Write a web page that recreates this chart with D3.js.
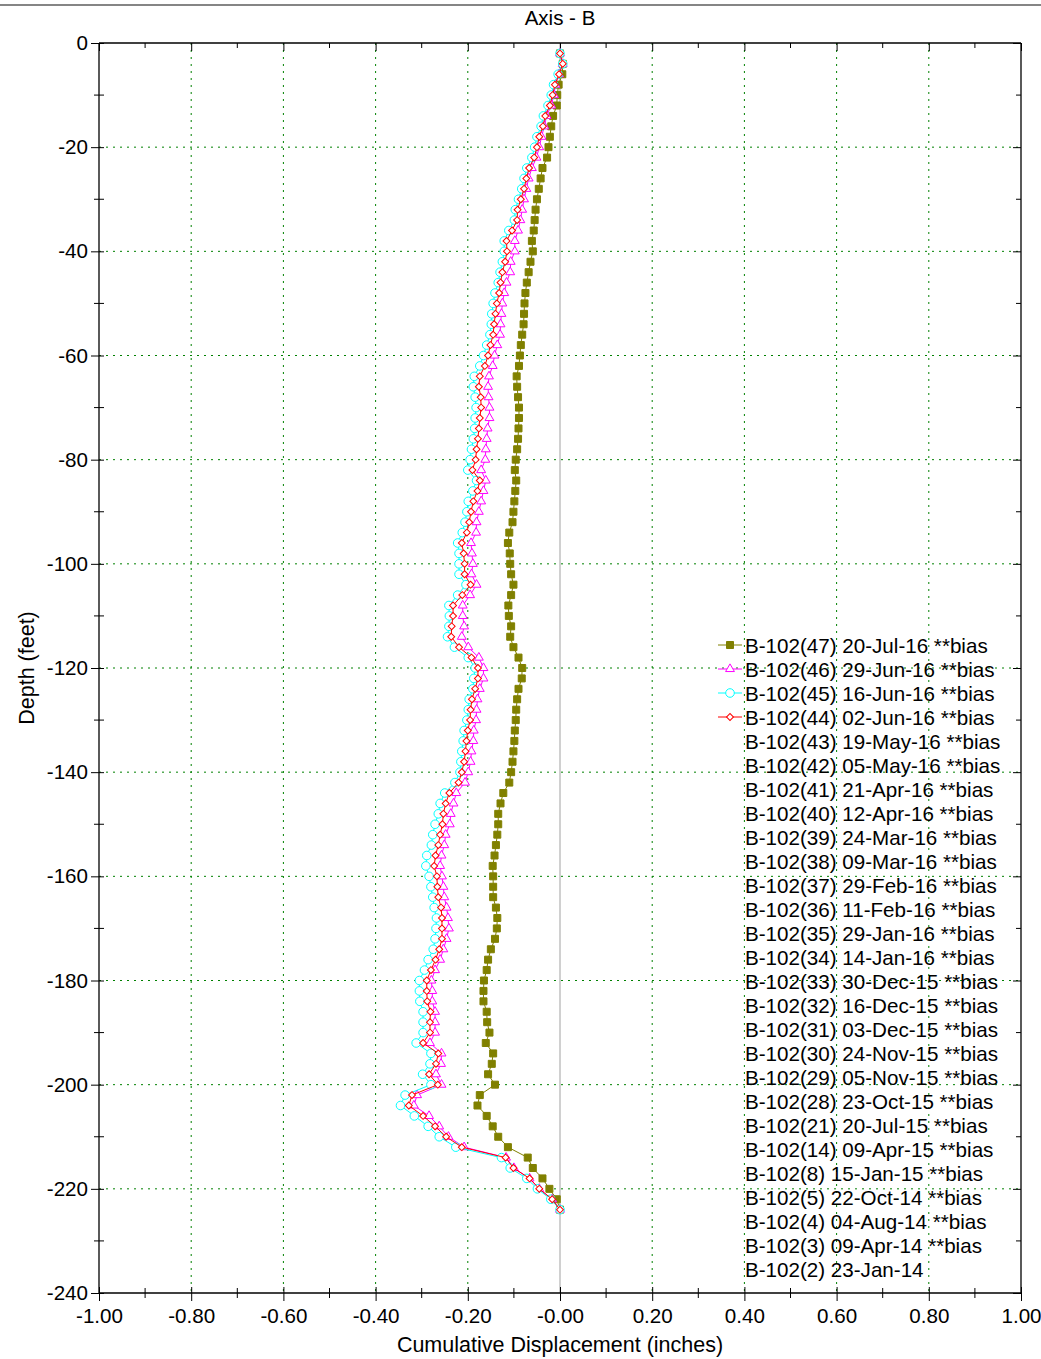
<!DOCTYPE html>
<html>
<head>
<meta charset="utf-8">
<script src="https://cdn.jsdelivr.net/npm/d3@7"></script>
<style>
    body { margin: 0; background: #fff; }
    svg { display: block; font-family: Arial, "Liberation Sans", sans-serif; }
</style>
</head>
<body>
<svg id="chart" width="1041" height="1359"></svg>
<script>
// depth stations (feet), one reading every 2 ft
const depths = [
    -2, -4, -6, -8, -10, -12, -14, -16, -18, -20, -22, -24, -26, -28, -30, -32, -34, -36, -38, -40,
    -42, -44, -46, -48, -50, -52, -54, -56, -58, -60, -62, -64, -66, -68, -70, -72, -74, -76, -78, -80,
    -82, -84, -86, -88, -90, -92, -94, -96, -98, -100, -102, -104, -106, -108, -110, -112, -114, -116, -118, -120,
    -122, -124, -126, -128, -130, -132, -134, -136, -138, -140, -142, -144, -146, -148, -150, -152, -154, -156, -158, -160,
    -162, -164, -166, -168, -170, -172, -174, -176, -178, -180, -182, -184, -186, -188, -190, -192, -194, -196, -198, -200,
    -202, -204, -206, -208, -210, -212, -214, -216, -218, -220, -222, -224
];

// cumulative displacement (inches) per reading
const b102_47 = [
    0.000, 0.006, 0.005, -0.003, -0.006, -0.007, -0.015, -0.019, -0.022, -0.025, -0.028, -0.038, -0.042, -0.046, -0.050, -0.053, -0.055, -0.057, -0.061, -0.059,
    -0.064, -0.068, -0.072, -0.075, -0.077, -0.078, -0.079, -0.082, -0.085, -0.087, -0.089, -0.094, -0.093, -0.091, -0.089, -0.089, -0.090, -0.091, -0.093, -0.096,
    -0.098, -0.095, -0.097, -0.099, -0.101, -0.103, -0.110, -0.113, -0.109, -0.108, -0.106, -0.101, -0.106, -0.112, -0.111, -0.106, -0.108, -0.101, -0.090, -0.082,
    -0.083, -0.090, -0.093, -0.095, -0.096, -0.098, -0.099, -0.101, -0.103, -0.106, -0.110, -0.123, -0.129, -0.134, -0.134, -0.136, -0.139, -0.142, -0.146, -0.145,
    -0.145, -0.145, -0.139, -0.136, -0.137, -0.141, -0.150, -0.156, -0.159, -0.165, -0.166, -0.166, -0.159, -0.158, -0.153, -0.161, -0.145, -0.148, -0.156, -0.141,
    -0.174, -0.179, -0.159, -0.146, -0.134, -0.113, -0.070, -0.059, -0.038, -0.023, -0.007, 0.000
];
const b102_46 = [
    0.000, 0.006, -0.002, -0.010, -0.013, -0.019, -0.029, -0.034, -0.040, -0.045, -0.051, -0.061, -0.068, -0.073, -0.078, -0.082, -0.086, -0.091, -0.098, -0.098,
    -0.107, -0.108, -0.116, -0.121, -0.125, -0.127, -0.129, -0.130, -0.136, -0.142, -0.146, -0.154, -0.156, -0.155, -0.153, -0.153, -0.157, -0.159, -0.161, -0.162,
    -0.171, -0.161, -0.166, -0.171, -0.176, -0.181, -0.182, -0.193, -0.191, -0.189, -0.192, -0.181, -0.195, -0.211, -0.211, -0.208, -0.213, -0.199, -0.176, -0.166,
    -0.166, -0.174, -0.179, -0.181, -0.182, -0.187, -0.188, -0.192, -0.194, -0.199, -0.206, -0.225, -0.231, -0.237, -0.239, -0.248, -0.251, -0.257, -0.260, -0.256,
    -0.253, -0.251, -0.246, -0.243, -0.241, -0.246, -0.253, -0.260, -0.271, -0.279, -0.277, -0.277, -0.271, -0.271, -0.271, -0.282, -0.257, -0.258, -0.269, -0.257,
    -0.310, -0.317, -0.284, -0.262, -0.242, -0.208, -0.117, -0.100, -0.066, -0.045, -0.017, 0.000
];
const b102_45 = [
    0.000, 0.006, -0.004, -0.014, -0.019, -0.026, -0.036, -0.041, -0.050, -0.055, -0.061, -0.072, -0.078, -0.083, -0.090, -0.097, -0.099, -0.111, -0.121, -0.121,
    -0.125, -0.130, -0.134, -0.141, -0.145, -0.148, -0.149, -0.152, -0.159, -0.166, -0.174, -0.186, -0.188, -0.184, -0.182, -0.184, -0.185, -0.188, -0.192, -0.195,
    -0.200, -0.181, -0.189, -0.199, -0.202, -0.206, -0.212, -0.222, -0.219, -0.219, -0.219, -0.204, -0.222, -0.241, -0.240, -0.241, -0.244, -0.229, -0.199, -0.184,
    -0.187, -0.189, -0.197, -0.199, -0.202, -0.208, -0.210, -0.213, -0.215, -0.217, -0.228, -0.250, -0.260, -0.264, -0.271, -0.276, -0.279, -0.289, -0.291, -0.284,
    -0.280, -0.276, -0.273, -0.268, -0.269, -0.271, -0.275, -0.286, -0.294, -0.305, -0.305, -0.304, -0.297, -0.297, -0.297, -0.312, -0.280, -0.282, -0.298, -0.280,
    -0.336, -0.346, -0.316, -0.286, -0.262, -0.226, -0.127, -0.108, -0.072, -0.049, -0.020, 0.000
];
const b102_44 = [
    0.000, 0.006, -0.002, -0.011, -0.016, -0.022, -0.032, -0.037, -0.045, -0.050, -0.056, -0.067, -0.073, -0.078, -0.085, -0.092, -0.093, -0.104, -0.116, -0.115,
    -0.119, -0.125, -0.129, -0.132, -0.137, -0.140, -0.143, -0.145, -0.151, -0.156, -0.163, -0.174, -0.176, -0.172, -0.171, -0.174, -0.176, -0.178, -0.181, -0.183,
    -0.190, -0.174, -0.179, -0.188, -0.193, -0.197, -0.202, -0.213, -0.209, -0.207, -0.207, -0.194, -0.212, -0.232, -0.232, -0.235, -0.236, -0.219, -0.192, -0.178,
    -0.178, -0.184, -0.191, -0.194, -0.195, -0.200, -0.203, -0.205, -0.208, -0.213, -0.220, -0.240, -0.248, -0.253, -0.255, -0.260, -0.264, -0.270, -0.273, -0.267,
    -0.266, -0.264, -0.258, -0.256, -0.256, -0.256, -0.262, -0.270, -0.280, -0.289, -0.289, -0.288, -0.281, -0.282, -0.282, -0.297, -0.264, -0.269, -0.284, -0.265,
    -0.321, -0.328, -0.297, -0.271, -0.247, -0.213, -0.118, -0.101, -0.066, -0.045, -0.017, 0.000
];

// legend text, newest first; only the first four readings are plotted
const legendLabels = [
    "B-102(47) 20-Jul-16 **bias", "B-102(46) 29-Jun-16 **bias", "B-102(45) 16-Jun-16 **bias",
    "B-102(44) 02-Jun-16 **bias", "B-102(43) 19-May-16 **bias", "B-102(42) 05-May-16 **bias",
    "B-102(41) 21-Apr-16 **bias", "B-102(40) 12-Apr-16 **bias", "B-102(39) 24-Mar-16 **bias",
    "B-102(38) 09-Mar-16 **bias", "B-102(37) 29-Feb-16 **bias", "B-102(36) 11-Feb-16 **bias",
    "B-102(35) 29-Jan-16 **bias", "B-102(34) 14-Jan-16 **bias", "B-102(33) 30-Dec-15 **bias",
    "B-102(32) 16-Dec-15 **bias", "B-102(31) 03-Dec-15 **bias", "B-102(30) 24-Nov-15 **bias",
    "B-102(29) 05-Nov-15 **bias", "B-102(28) 23-Oct-15 **bias", "B-102(21) 20-Jul-15 **bias",
    "B-102(14) 09-Apr-15 **bias", "B-102(8) 15-Jan-15 **bias", "B-102(5) 22-Oct-14 **bias",
    "B-102(4) 04-Aug-14 **bias", "B-102(3) 09-Apr-14 **bias", "B-102(2) 23-Jan-14"
];

const xTicks = [-1, -0.8, -0.6, -0.4, -0.2, 0, 0.2, 0.4, 0.6, 0.8, 1];
const xTickLabels = ["-1.00", "-0.80", "-0.60", "-0.40", "-0.20", "-0.00", "0.20", "0.40", "0.60", "0.80", "1.00"];
const xMinorTicks = [-0.9, -0.7, -0.5, -0.3, -0.1, 0.1, 0.3, 0.5, 0.7, 0.9];
const yTicks = [0, -20, -40, -60, -80, -100, -120, -140, -160, -180, -200, -220, -240];
const yTickLabels = ["0", "-20", "-40", "-60", "-80", "-100", "-120", "-140", "-160", "-180", "-200", "-220", "-240"];
const yMinorTicks = [-10, -30, -50, -70, -90, -110, -130, -150, -170, -190, -210, -230];

// drawing order: olive first, red last (on top) - same order as legend rows
const series = [
    {values: b102_47, color: "#808000", symbol: "square", fill: "#808000"},
    {values: b102_46, color: "#ff00ff", symbol: "triangle", fill: "#fff"},
    {values: b102_45, color: "#00ffff", symbol: "circle", fill: "#fff"},
    {values: b102_44, color: "#ff0000", symbol: "diamond", fill: "#fff"}
];

const svg = d3.select("#chart");
const plot = {left: 99, right: 1021, top: 43, bottom: 1293};

const x = d3.scaleLinear().domain([-1, 1]).range([plot.left, plot.right]);
const y = d3.scaleLinear().domain([0, -240]).range([plot.top, plot.bottom]);

const symbolPath = {
    square: d3.symbol().type(d3.symbolSquare).size(49)(),
    triangle: d3.symbol().type(d3.symbolTriangle).size(34)(),
    circle: d3.symbol().type(d3.symbolCircle).size(58)(),
    diamond: d3.symbol().type(d3.symbolSquare).size(24)()
};
const symbolRotate = s => s === "diamond" ? " rotate(45)" : "";

const fontSize = 20.6;    // tick labels + legend
const titleSize = 21.5;   // axis titles

// window frame line at the very top
svg.append("line")
    .attr("x1", 0).attr("x2", 1041)
    .attr("y1", 5).attr("y2", 5)
    .attr("stroke", "#858585")
    .attr("stroke-width", 2);

svg.append("text")
    .attr("x", x(0)).attr("y", 25)
    .attr("text-anchor", "middle")
    .attr("font-size", 20.5)
    .text("Axis - B");

// grid
const grid = svg.append("g").attr("class", "grid")
    .attr("stroke", "#008000")
    .attr("stroke-dasharray", "2,5");

grid.selectAll(".vgrid")
    .data(xTicks.filter(v => v !== 0 && Math.abs(v) !== 1))
    .join("line")
    .attr("x1", d => x(d)).attr("x2", d => x(d))
    .attr("y1", plot.top).attr("y2", plot.bottom);

grid.selectAll(".hgrid")
    .data(yTicks.filter(v => v !== 0 && v !== -240))
    .join("line")
    .attr("x1", plot.left).attr("x2", plot.right)
    .attr("y1", d => y(d)).attr("y2", d => y(d));

// zero displacement reference
svg.append("line")
    .attr("x1", x(0)).attr("x2", x(0))
    .attr("y1", plot.top).attr("y2", plot.bottom)
    .attr("stroke", "#c0c0c0")
    .attr("stroke-width", 1.5);

// axes
const xAxis = svg.append("g")
    .attr("transform", `translate(0,${plot.bottom})`)
    .call(d3.axisBottom(x).tickValues(xTicks).tickSize(8).tickPadding(7)
        .tickFormat((d, i) => xTickLabels[i]));
xAxis.selectAll(".tick line").attr("y1", -6).attr("y2", 8);

const xTop = svg.append("g")
    .attr("transform", `translate(0,${plot.top})`)
    .call(d3.axisTop(x).tickValues(xTicks).tickSize(-8).tickFormat(""));

const yAxis = svg.append("g")
    .attr("transform", `translate(${plot.left},0)`)
    .call(d3.axisLeft(y).tickValues(yTicks).tickSize(8).tickPadding(3)
        .tickFormat((d, i) => yTickLabels[i]));
yAxis.selectAll(".tick line").attr("x1", -8).attr("x2", 5);

const yRight = svg.append("g")
    .attr("transform", `translate(${plot.right},0)`)
    .call(d3.axisRight(y).tickValues(yTicks).tickSize(-8).tickFormat(""));

[xAxis, xTop, yAxis, yRight].forEach(g => {
    g.select(".domain").attr("stroke", "#000").attr("stroke-width", 1.3);
    g.selectAll(".tick line").attr("stroke", "#000");
    g.selectAll("text").attr("font-size", fontSize).attr("font-family", null).attr("fill", "#000");
});
// axis domains in d3 have outer ticks; flatten them into a plain frame
xAxis.select(".domain").attr("d", `M${plot.left},0H${plot.right}`);
xTop.select(".domain").attr("d", `M${plot.left},0H${plot.right}`);
yAxis.select(".domain").attr("d", `M0,${plot.top}V${plot.bottom}`);
yRight.select(".domain").attr("d", `M0,${plot.top}V${plot.bottom}`);

// minor ticks
const minor = svg.append("g").attr("stroke", "#000");
minor.selectAll(".mxb").data(xMinorTicks).join("line")
    .attr("x1", d => x(d)).attr("x2", d => x(d))
    .attr("y1", plot.bottom - 5).attr("y2", plot.bottom + 5);
minor.selectAll(".mxt").data(xMinorTicks).join("line")
    .attr("x1", d => x(d)).attr("x2", d => x(d))
    .attr("y1", plot.top).attr("y2", plot.top + 5);
minor.selectAll(".myl").data(yMinorTicks).join("line")
    .attr("x1", plot.left - 5).attr("x2", plot.left + 5)
    .attr("y1", d => y(d)).attr("y2", d => y(d));
minor.selectAll(".myr").data(yMinorTicks).join("line")
    .attr("x1", plot.right - 5).attr("x2", plot.right)
    .attr("y1", d => y(d)).attr("y2", d => y(d));

// axis titles
svg.append("text")
    .attr("x", x(0)).attr("y", 1352)
    .attr("text-anchor", "middle")
    .attr("font-size", titleSize)
    .text("Cumulative Displacement (inches)");

svg.append("text")
    .attr("transform", `translate(34,${(plot.top + plot.bottom) / 2}) rotate(-90)`)
    .attr("text-anchor", "middle")
    .attr("font-size", titleSize)
    .text("Depth (feet)");

// series
const line = d3.line()
    .x(d => x(d.v))
    .y(d => y(d.depth));

series.forEach(s => {
    const pts = depths.map((depth, i) => ({depth: depth, v: s.values[i]}));
    const g = svg.append("g");
    g.append("path")
        .datum(pts)
        .attr("d", line)
        .attr("fill", "none")
        .attr("stroke", s.color)
        .attr("stroke-width", 1);
    g.selectAll("path.mark")
        .data(pts)
        .join("path")
        .attr("class", "mark")
        .attr("d", symbolPath[s.symbol])
        .attr("transform", d => `translate(${x(d.v)},${y(d.depth)})` + symbolRotate(s.symbol))
        .attr("fill", s.fill)
        .attr("stroke", s.color)
        .attr("stroke-width", 1);
});

// legend
const legend = svg.append("g").attr("transform", "translate(718,645)");
const rowH = 24;

legend.selectAll("text")
    .data(legendLabels)
    .join("text")
    .attr("x", 27)
    .attr("y", (d, i) => i * rowH + 7.5)
    .attr("font-size", fontSize)
    .text(d => d);

series.forEach((s, i) => {
    const row = legend.append("g").attr("transform", `translate(0,${i * rowH})`);
    row.append("line")
        .attr("x1", 0).attr("x2", 24)
        .attr("stroke", s.color);
    row.append("path")
        .attr("d", symbolPath[s.symbol])
        .attr("transform", "translate(12,0)" + symbolRotate(s.symbol))
        .attr("fill", s.fill)
        .attr("stroke", s.color);
});
</script>
</body>
</html>
